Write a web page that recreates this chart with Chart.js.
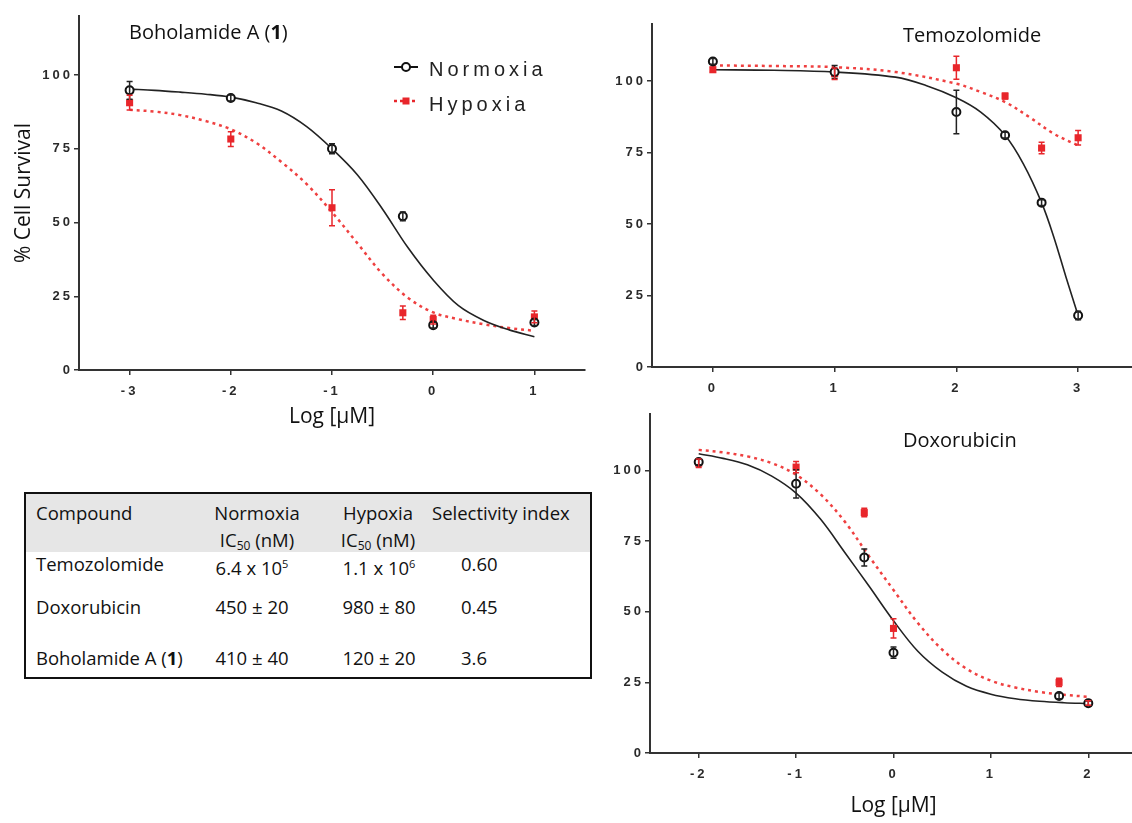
<!DOCTYPE html>
<html>
<head>
<meta charset="utf-8">
<script src="https://cdn.jsdelivr.net/npm/chart.js@4.4.1/dist/chart.umd.min.js"></script>
<style>
  html, body { margin: 0; padding: 0; background: #fff; overflow: hidden; width: 1132px; height: 823px; }
  body { position: relative; font-family: 'Open Sans', sans-serif; color: #111; }
  canvas { position: absolute; }
  .title { position: absolute; font-size: 20px; line-height: 24px; white-space: nowrap; color: #111; }
  .tbl-box { position: absolute; left: 24px; top: 492px; width: 568px; height: 187px; border: 2px solid #111; box-sizing: border-box; }
  .tbl-head { position: absolute; left: 0; top: 0; right: 0; height: 58px; background: #e6e6e6; }
  .cell { position: absolute; font-size: 18.5px; line-height: 24px; white-space: nowrap; color: #111; }
  .cell sub { font-size: 12px; vertical-align: -3px; }
  .cell sup { font-size: 11px; vertical-align: 7px; }
</style>
</head>
<body>
<canvas id="bohoChart" width="600" height="440" style="left:0;top:0"></canvas>
<canvas id="temoChart" width="560" height="400" style="left:600px;top:0"></canvas>
<canvas id="doxoChart" width="560" height="423" style="left:600px;top:400px"></canvas>

<div class="title" style="left:129px;top:20px">Boholamide A (<b>1</b>)</div>
<div class="title" style="left:903px;top:23px">Temozolomide</div>
<div class="title" style="left:903px;top:428px">Doxorubicin</div>

<div class="tbl-box"><div class="tbl-head"></div></div>
<div id="tbl"></div>

<script>
// y axis ticks shared by all three panels
const survivalTicks = [0, 25, 50, 75, 100];

// Boholamide A (1)
const bohoTicksX = [-3, -2, -1, 0, 1];
const bohoDose = [-3, -2, -1, -0.3, 0, 1];
const bohoNorm = [94.8, 92.2, 75, 52.1, 15.2, 16.1];
const bohoNormErr = [3, 1, 1.7, 1.5, 1, 1];
const bohoHypo = [90.6, 78.3, 55, 19.4, 17.1, 18];
const bohoHypoErr = [2.5, 2.5, 6.1, 2.3, 1.5, 2];
// fitted curves, read every 0.25 log units
const bohoFitX = [-3, -2.75, -2.5, -2.25, -2, -1.75, -1.5, -1.25, -1, -0.75, -0.5, -0.25, 0, 0.25, 0.5, 0.75, 1];
const bohoNormFitY = [95.2, 94.8, 94.2, 93.5, 92.5, 90.6, 87.8, 82.5, 75, 66.2, 54.5, 41.5, 30.5, 21.8, 16.8, 13.6, 11.3];
const bohoHypoFitY = [88.2, 87.6, 86.4, 84.4, 81.6, 77, 70.5, 63, 53.5, 43, 32.5, 24.5, 19.5, 17.2, 15.5, 14.2, 13.3];

// Temozolomide
const temoTicksX = [0, 1, 2, 3];
const temoDose = [0, 1, 2, 2.4, 2.7, 3];
const temoNorm = [106.9, 103.2, 89.2, 81.1, 57.5, 18];
const temoNormErr = [1, 2.3, 7.6, 1, 1, 1.5];
const temoHypo = [104, 102.6, 104.7, 94.8, 76.6, 80.2];
const temoHypoErr = [0.8, 2, 4, 1, 2, 2.5];
const temoNormFitX = [0, 0.5, 1, 1.5, 1.75, 2, 2.2, 2.4, 2.55, 2.7, 2.8, 2.9, 3];
const temoNormFitY = [104, 103.8, 103.2, 101.4, 98.5, 94.2, 89.2, 81.1, 71.1, 57.5, 45.5, 31.5, 18];
const temoHypoFitX = [0, 0.5, 1, 1.5, 2, 2.2, 2.4, 2.6, 2.8, 3];
const temoHypoFitY = [105.5, 105.3, 104.9, 103.2, 99.1, 96.2, 92.7, 87.4, 81.6, 77.5];

// Doxorubicin
const doxoTicksX = [-2, -1, 0, 1, 2];
const doxoDose = [-2, -1, -0.3, 0, 1.7, 2];
const doxoNorm = [103, 95.3, 69.2, 35.5, 20.2, 17.6];
const doxoNormErr = [1, 5, 3, 2, 1, 0.8];
const doxoHypo = [102.6, 101.2, 85.1, 44.1, 25, 17.7];
const doxoHypoErr = [1.5, 2, 1.5, 3.4, 1.5, 0.8];
const doxoFitX = [-2, -1.75, -1.5, -1.25, -1, -0.75, -0.5, -0.25, 0, 0.25, 0.5, 0.75, 1, 1.25, 1.5, 1.75, 2];
const doxoNormFitY = [105.9, 104.3, 102, 98, 92, 82.8, 71, 59, 46.8, 36, 28.6, 23.6, 20.8, 19.2, 18.3, 17.8, 17.5];
const doxoHypoFitY = [107.3, 106.4, 105, 102.6, 98.5, 91.6, 81.9, 69.6, 57.7, 46, 36.6, 29.8, 25.6, 23.2, 21.6, 20.6, 19.9];

// IC50 table
const tableHead1 = ['Compound', 'Normoxia', 'Hypoxia', 'Selectivity index'];
const tableHead2 = ['', 'IC<sub>50</sub> (nM)', 'IC<sub>50</sub> (nM)', ''];
const compounds = ['Temozolomide', 'Doxorubicin', 'Boholamide A (<b>1</b>)'];
const normIC50 = ['6.4 x 10<sup>5</sup>', '450 ± 20', '410 ± 40'];
const hypoIC50 = ['1.1 x 10<sup>6</sup>', '980 ± 80', '120 ± 20'];
const selectivity = ['0.60', '0.45', '3.6'];

const RED = '#e8262b';
const tickFont = { family: "'Liberation Sans', Arial, sans-serif", size: 13, weight: 'bold' };
const titleFont = { family: "'Open Sans', sans-serif", size: 21 };

function pts(xs, ys) {
    return xs.map((x, i) => ({ x: x, y: ys[i] }));
}

// tick labels in the original are spaced out, titles are not
const baseDrawTitle = Chart.Scale.prototype.drawTitle;
Chart.Scale.prototype.drawTitle = function () {
    const c = this.ctx;
    const ls = c.letterSpacing;
    c.letterSpacing = '0px';
    baseDrawTitle.apply(this, arguments);
    c.letterSpacing = ls;
};

const spacingPlugin = {
    id: 'spacing',
    beforeDraw(chart) { chart.ctx.letterSpacing = '3px'; }
};

// vertical error bars with caps, taken from dataset.errors
const errorBarPlugin = {
    id: 'errorBars',
    afterDatasetsDraw(chart) {
        const ctx = chart.ctx, xs = chart.scales.x, ys = chart.scales.y;
        chart.data.datasets.forEach(ds => {
            if (!ds.errors) return;
            ctx.save();
            ctx.strokeStyle = ds.errColor;
            ctx.lineWidth = 1.5;
            ds.data.forEach((p, i) => {
                const e = ds.errors[i];
                const px = xs.getPixelForValue(p.x);
                const top = ys.getPixelForValue(p.y + e);
                const bot = ys.getPixelForValue(p.y - e);
                ctx.beginPath();
                ctx.moveTo(px, top); ctx.lineTo(px, bot);
                ctx.moveTo(px - 3, top); ctx.lineTo(px + 3, top);
                ctx.moveTo(px - 3, bot); ctx.lineTo(px + 3, bot);
                ctx.stroke();
            });
            ctx.restore();
        });
    }
};

// legend drawn inside the first panel
const insideLegend = {
    id: 'insideLegend',
    afterDraw(chart) {
        const ctx = chart.ctx;
        const sets = chart.data.datasets;
        ctx.save();
        ctx.letterSpacing = '4px';
        ctx.font = "20px 'Liberation Sans', Arial, sans-serif";
        ctx.textBaseline = 'middle';
        // Normoxia
        ctx.strokeStyle = '#111';
        ctx.lineWidth = 2;
        ctx.beginPath(); ctx.moveTo(394, 67); ctx.lineTo(418, 67); ctx.stroke();
        ctx.beginPath(); ctx.arc(406, 67, 4, 0, Math.PI * 2);
        ctx.fillStyle = '#fff'; ctx.fill(); ctx.stroke();
        ctx.fillStyle = '#222';
        ctx.fillText(sets[0].label, 429, 70);
        // Hypoxia
        ctx.strokeStyle = RED;
        ctx.lineWidth = 2.5;
        ctx.setLineDash([3, 3]);
        ctx.beginPath(); ctx.moveTo(394, 101); ctx.lineTo(418, 101); ctx.stroke();
        ctx.setLineDash([]);
        ctx.fillStyle = RED;
        ctx.fillRect(402.5, 97.5, 7, 7);
        ctx.fillStyle = '#222';
        ctx.fillText(sets[1].label, 429, 105);
        ctx.restore();
    }
};

function buildDatasets(dose, norm, normErr, hypo, hypoErr, nfx, nfy, hfx, hfy) {
    return [
        {
            label: 'Normoxia', data: pts(dose, norm), errors: normErr, errColor: '#222',
            pointStyle: 'circle', pointRadius: 4, pointBackgroundColor: '#fff',
            pointBorderColor: '#111', pointBorderWidth: 2
        },
        {
            label: 'Hypoxia', data: pts(dose, hypo), errors: hypoErr, errColor: RED,
            pointStyle: 'rect', pointRadius: 5, pointBackgroundColor: RED,
            pointBorderColor: RED, pointBorderWidth: 0
        },
        {
            label: 'Normoxia fit', data: pts(nfx, nfy), showLine: true, pointRadius: 0,
            borderColor: '#222', borderWidth: 1.6, tension: 0.35
        },
        {
            label: 'Hypoxia fit', data: pts(hfx, hfy), showLine: true, pointRadius: 0,
            borderColor: '#ef4040', borderWidth: 2.5, borderDash: [3, 4], tension: 0.35
        }
    ];
}

function makeChart(id, cfg) {
    const axisGrid = { display: true, drawOnChartArea: false, drawTicks: true, tickLength: 5, color: '#333', lineWidth: 1.5 };
    const axisBorder = { display: true, color: '#333', width: 2 };
    return new Chart(document.getElementById(id), {
        type: 'scatter',
        data: { datasets: cfg.datasets },
        options: {
            responsive: false,
            animation: false,
            events: [],
            layout: { padding: cfg.padding },
            plugins: { legend: { display: false }, tooltip: { enabled: false } },
            scales: {
                x: {
                    type: 'linear',
                    min: cfg.xMin,
                    max: cfg.xMax,
                    afterBuildTicks: s => { s.ticks = cfg.xTicks.map(v => ({ value: v })); },
                    afterFit: s => { s.height = cfg.xHeight; },
                    grid: axisGrid,
                    border: axisBorder,
                    ticks: { font: tickFont, color: '#2a2a2a', padding: 9, maxRotation: 0, autoSkip: false },
                    title: {
                        display: !!cfg.xTitle, text: cfg.xTitle, font: titleFont, color: '#111',
                        padding: { top: 0, bottom: cfg.xTitlePad }
                    }
                },
                y: {
                    type: 'linear',
                    min: 0,
                    max: 120,
                    afterBuildTicks: s => { s.ticks = survivalTicks.map(v => ({ value: v })); },
                    afterFit: s => { s.width = cfg.yWidth; },
                    grid: axisGrid,
                    border: axisBorder,
                    ticks: { font: tickFont, color: '#2a2a2a', padding: 1 },
                    title: {
                        display: !!cfg.yTitle, text: cfg.yTitle, font: titleFont, color: '#111',
                        padding: { top: 11, bottom: 0 }
                    }
                }
            }
        },
        plugins: [spacingPlugin, errorBarPlugin].concat(cfg.plugins || [])
    });
}

makeChart('bohoChart', {
    datasets: buildDatasets(bohoDose, bohoNorm, bohoNormErr, bohoHypo, bohoHypoErr,
        bohoFitX, bohoNormFitY, bohoFitX, bohoHypoFitY),
    xMin: -3.5, xMax: 1.5, xTicks: bohoTicksX,
    padding: { left: 0, top: 16, right: 15, bottom: 0 },
    yWidth: 79, xHeight: 70,
    xTitle: 'Log [µM]', xTitlePad: 10, yTitle: '% Cell Survival',
    plugins: [insideLegend]
});

makeChart('temoChart', {
    datasets: buildDatasets(temoDose, temoNorm, temoNormErr, temoHypo, temoHypoErr,
        temoNormFitX, temoNormFitY, temoHypoFitX, temoHypoFitY),
    xMin: -0.5, xMax: 3.5, xTicks: temoTicksX,
    padding: { left: 0, top: 24, right: 21, bottom: 0 },
    yWidth: 52, xHeight: 33
});

makeChart('doxoChart', {
    datasets: buildDatasets(doxoDose, doxoNorm, doxoNormErr, doxoHypo, doxoHypoErr,
        doxoFitX, doxoNormFitY, doxoFitX, doxoHypoFitY),
    xMin: -2.5, xMax: 2.5, xTicks: doxoTicksX,
    padding: { left: 0, top: 14, right: 23, bottom: 0 },
    yWidth: 50, xHeight: 70,
    xTitle: 'Log [µM]', xTitlePad: 4
});

// table cells, built from the arrays above
const tbl = document.getElementById('tbl');
function addCell(html, x, cy, center) {
    const s = document.createElement('span');
    s.className = 'cell';
    s.innerHTML = html;
    s.style.left = x + 'px';
    s.style.top = (cy - 12) + 'px';
    if (center) s.style.transform = 'translateX(-50%)';
    tbl.appendChild(s);
}
const headX = [36, 257, 378, 432];
const headCenter = [false, true, true, false];
tableHead1.forEach((h, i) => addCell(h, headX[i], 513, headCenter[i]));
tableHead2.forEach((h, i) => { if (h) addCell(h, headX[i], 540, headCenter[i]); });
const rowY = [564, 607, 658];
compounds.forEach((c, r) => {
    addCell(c, 36, rowY[r], false);
    addCell(normIC50[r], 252, rowY[r], true);
    addCell(hypoIC50[r], 379, rowY[r], true);
    addCell(selectivity[r], 461, rowY[r], false);
});
</script>
</body>
</html>
